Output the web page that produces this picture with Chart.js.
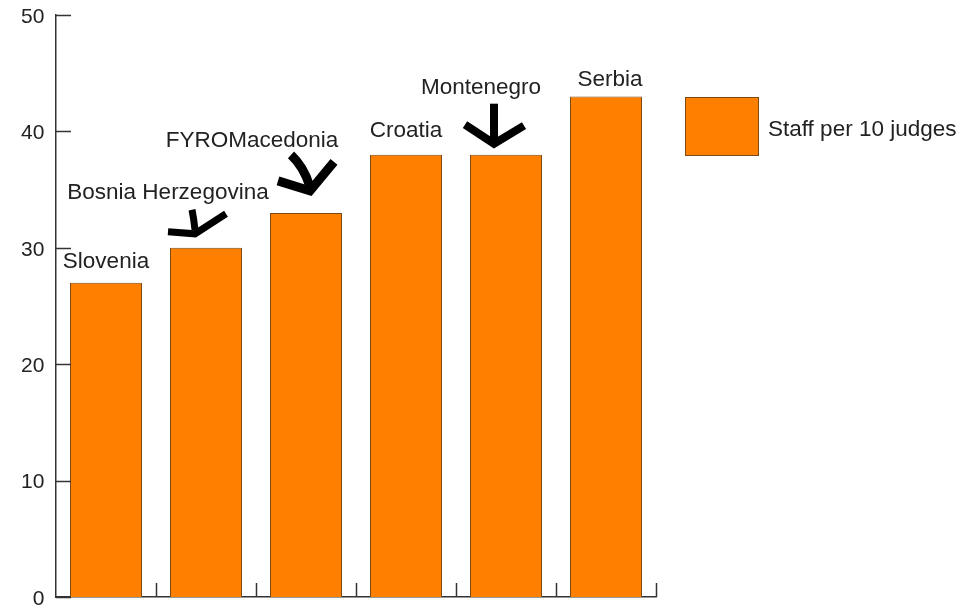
<!DOCTYPE html>
<html>
<head>
<meta charset="utf-8">
<script src="https://cdn.jsdelivr.net/npm/chart.js@4"></script>
<style>
  html, body { margin: 0; padding: 0; background: #fff; }
  canvas { display: block; }
</style>
</head>
<body>
<canvas id="chart" width="976" height="609"></canvas>
<script>
// Data
const countries = ['Slovenia', 'Bosnia Herzegovina', 'FYROMacedonia', 'Croatia', 'Montenegro', 'Serbia'];
const staffPer10Judges = [27, 30, 33, 38, 38, 43];
const yTicks = [0, 10, 20, 30, 40, 50];
const seriesName = 'Staff per 10 judges';

const FONT = '"Liberation Sans", Arial, Helvetica, sans-serif';
const ORANGE = '#ff8000';
const BAR_EDGE = '#7a4a1a';
const AXIS = '#333333';

// label placement relative to the top centre of each bar (dx, dy)
const labelOffsets = [
  [0, -21], [-38, -55], [-54, -72], [0, -24], [-25, -67], [4, -17]
];
// hand-drawn arrows, offsets relative to the bar top centre
// shaft: [x1, y1, cx, cy, x2, y2] (quadratic), wings: left, tip, right
const arrows = {
  1: { shaft: [-14, -38, -12, -28, -11, -18], wing: [[-38, -16], [-11, -14], [20, -34]], w: 7 },
  2: { shaft: [-15, -58, -2, -46, 4, -26], wing: [[-28, -32], [4, -22], [28, -51]], w: 9 },
  4: { shaft: [-12, -51, -12, -32, -12, -15], wing: [[-41, -30], [-12, -11], [18, -29]], w: 8 }
};

const overlay = {
  id: 'overlay',
  afterDraw(chart) {
    const ctx = chart.ctx;
    const x = chart.scales.x;
    const y = chart.scales.y;
    const area = chart.chartArea;

    ctx.save();
    // inward tick marks on the y axis
    ctx.strokeStyle = AXIS;
    ctx.lineWidth = 1.5;
    yTicks.forEach(v => {
      const py = Math.round(y.getPixelForValue(v)) + 0.5;
      ctx.beginPath();
      ctx.moveTo(area.left, py);
      ctx.lineTo(area.left + 15, py);
      ctx.stroke();
    });
    // inward tick marks on the x axis, at category boundaries
    const half = (x.getPixelForValue(1) - x.getPixelForValue(0)) / 2;
    countries.forEach((c, i) => {
      const px = Math.round(x.getPixelForValue(i) + half) + 0.5;
      ctx.beginPath();
      ctx.moveTo(px, area.bottom);
      ctx.lineTo(px, area.bottom - 14);
      ctx.stroke();
    });

    // labels above the bars
    const meta = chart.getDatasetMeta(0);
    ctx.fillStyle = '#222';
    ctx.font = '22.5px ' + FONT;
    ctx.textAlign = 'center';
    ctx.textBaseline = 'middle';
    meta.data.forEach((bar, i) => {
      const [dx, dy] = labelOffsets[i];
      ctx.fillText(countries[i], bar.x + dx, bar.y + dy);
    });

    // arrows
    ctx.strokeStyle = '#000';
    ctx.lineJoin = 'miter';
    ctx.lineCap = 'butt';
    Object.keys(arrows).forEach(k => {
      const bar = meta.data[k];
      const a = arrows[k];
      const s = a.shaft;
      ctx.lineWidth = a.w;
      ctx.beginPath();
      ctx.moveTo(bar.x + s[0], bar.y + s[1]);
      ctx.quadraticCurveTo(bar.x + s[2], bar.y + s[3], bar.x + s[4], bar.y + s[5]);
      ctx.stroke();
      ctx.beginPath();
      ctx.moveTo(bar.x + a.wing[0][0], bar.y + a.wing[0][1]);
      ctx.lineTo(bar.x + a.wing[1][0], bar.y + a.wing[1][1]);
      ctx.lineTo(bar.x + a.wing[2][0], bar.y + a.wing[2][1]);
      ctx.stroke();
    });

    // legend
    const lx = area.right + 29, ly = area.top + 82;
    ctx.fillStyle = ORANGE;
    ctx.fillRect(lx, ly, 73, 58);
    ctx.strokeStyle = BAR_EDGE;
    ctx.lineWidth = 1;
    ctx.strokeRect(lx + 0.5, ly + 0.5, 73, 58);
    ctx.fillStyle = '#222';
    ctx.textAlign = 'left';
    ctx.font = '22.5px ' + FONT;
    ctx.fillText(seriesName, lx + 83, ly + 33);
    ctx.restore();
  }
};

new Chart(document.getElementById('chart'), {
  type: 'bar',
  data: {
    labels: countries,
    datasets: [{
      label: seriesName,
      data: staffPer10Judges,
      backgroundColor: ORANGE,
      borderColor: BAR_EDGE,
      borderWidth: 1,
      categoryPercentage: 1,
      barPercentage: 0.72
    }]
  },
  options: {
    responsive: false,
    animation: false,
    layout: { padding: { top: 15, right: 320, left: 0, bottom: 0 } },
    plugins: {
      legend: { display: false },
      tooltip: { enabled: false }
    },
    scales: {
      x: {
        grid: { display: false, drawTicks: false, tickLength: 0 },
        border: { display: true, color: AXIS, width: 1.5 },
        ticks: { display: false },
        afterFit(scale) { scale.height = 12; }
      },
      y: {
        min: 0,
        max: 50,
        afterBuildTicks(scale) { scale.ticks = yTicks.map(v => ({ value: v })); },
        grid: { display: false, drawTicks: false, tickLength: 0 },
        border: { display: true, color: AXIS, width: 1.5 },
        ticks: {
          padding: 0,
          labelOffset: 2,
          color: '#222',
          font: { family: FONT, size: 21, lineHeight: 1 },
          callback: v => v + '  '
        },
        afterFit(scale) { scale.width = 56; }
      }
    }
  },
  plugins: [overlay]
});
</script>
</body>
</html>
